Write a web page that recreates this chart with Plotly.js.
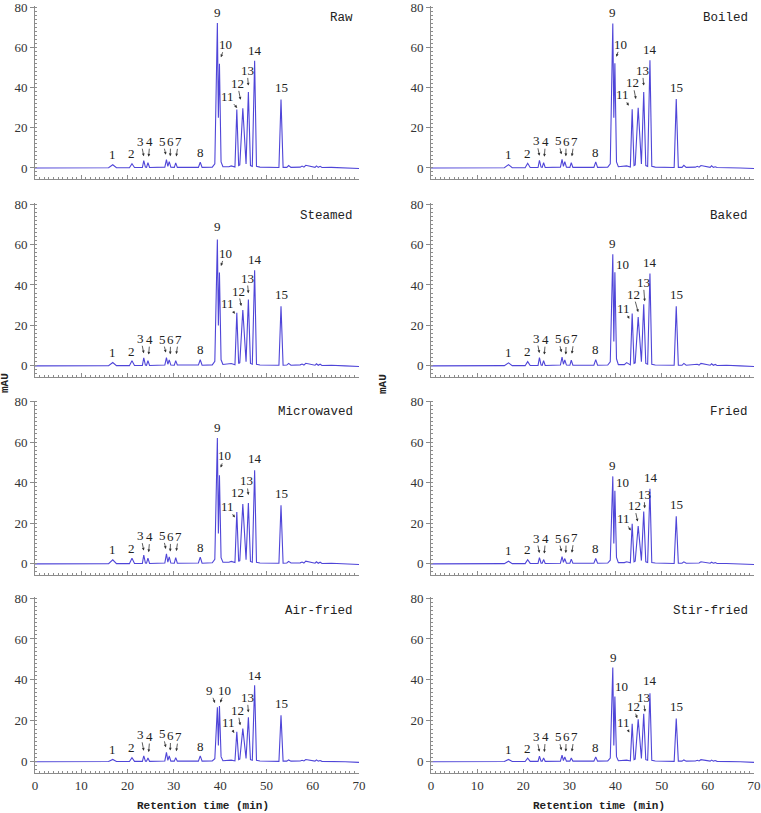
<!DOCTYPE html>
<html><head><meta charset="utf-8">
<script src="https://cdn.plot.ly/plotly-3.0.1.min.js"></script>
<style>html,body{margin:0;padding:0;background:#fff}#chart{width:761px;height:813px}</style>
</head><body><div id="chart"></div>
<script>
// Retention time points (min) shared by all chromatograms
const time = [0, 8, 15.9, 16.8, 17.6, 20.4, 20.95, 21.5, 23.2, 23.5,
  23.85, 24.1, 24.4, 24.75, 27.5, 28.05, 28.4, 28.7, 29.0, 29.35,
  30.1, 30.4, 30.75, 32.6, 33.6, 35.3, 35.7, 36.1, 38.3, 38.85,
  39.4, 39.62, 39.85, 40.2, 40.6, 41.9, 42.4, 43.2, 43.6, 44.0,
  44.25, 44.9, 45.6, 46.1, 46.55, 46.95, 47.45, 47.85, 48.6, 52.7,
  53.15, 53.6, 54.4, 54.8, 55.3, 57.3, 57.7, 58.1, 58.5, 60.5,
  60.8, 61.2, 61.6, 62.0, 64, 67, 70];

// Signal (mAU) per treatment
const raw = [0, 0, 0.1, 1.6, 0.1, 0.1, 2.1, 0.2, 0.2, 3.6,
  0.4, 0.3, 2.6, 0.2, 0.3, 0.4, 4.1, 0.8, 3.1, 0.4,
  0.3, 2.5, 0.3, 0.3, 0.5, 0.3, 2.8, 0.3, 0.4, 2.0,
  72.0, 25, 51.8, 3.0, 0.6, 0.6, 1.0, 0.5, 29.0, 1.2,
  1.5, 29.6, 2.0, 37.8, 1.2, 0.8, 53.3, 0.8, 0.4, 0.2,
  34.0, 0.3, 0.3, 1.2, 0.3, 0.4, 0.9, 0.4, 1.3, 0.3,
  1.0, 0.3, 0.8, 0.2, 0.3, 0.0, -0.3];
const boiled = [0, 0, 0.1, 1.65, 0.1, 0.1, 2.3, 0.2, 0.2, 3.8,
  0.4, 0.3, 2.6, 0.2, 0.3, 0.4, 4.3, 0.8, 3.1, 0.4,
  0.3, 2.6, 0.3, 0.3, 0.4, 0.3, 3.0, 0.3, 0.4, 2.0,
  71.8, 25, 52.0, 3.0, 0.6, 0.7, 1.0, 0.5, 29.2, 1.2,
  1.5, 29.9, 2.0, 37.8, 1.2, 0.8, 53.5, 0.8, 0.4, 0.2,
  34.2, 0.3, 0.3, 1.3, 0.3, 0.4, 0.8, 0.4, 1.2, 0.3,
  1.1, 0.3, 0.6, 0.2, 0.2, 0.0, -0.3];
const steamed = [0, 0, 0.1, 1.65, 0.1, 0.1, 2.5, 0.2, 0.2, 4.0,
  0.4, 0.3, 2.6, 0.2, 0.3, 0.4, 4.1, 0.8, 3.0, 0.4,
  0.3, 2.6, 0.4, 0.5, 0.6, 0.4, 3.0, 0.3, 0.5, 2.2,
  62.5, 20, 46.2, 3.0, 0.7, 0.9, 1.2, 0.6, 26.2, 1.2,
  1.6, 27.6, 2.0, 32.8, 1.2, 0.8, 47.2, 0.8, 0.4, 0.3,
  29.4, 0.3, 0.4, 1.2, 0.3, 0.5, 0.9, 0.4, 1.3, 0.3,
  1.0, 0.3, 0.8, 0.2, 0.3, 0.0, -0.3];
const baked = [0, 0, 0.1, 1.5, 0.1, 0.1, 2.1, 0.2, 0.2, 4.1,
  0.4, 0.3, 2.6, 0.2, 0.3, 0.4, 4.3, 0.8, 2.9, 0.4,
  0.3, 2.8, 0.3, 0.3, 0.5, 0.3, 3.1, 0.3, 0.4, 2.0,
  55.2, 12, 46.3, 3.5, 0.6, 0.6, 1.6, 0.5, 25.9, 1.2,
  1.5, 24.1, 2.0, 30.4, 1.2, 0.8, 45.7, 0.8, 0.4, 0.3,
  29.5, 0.3, 0.3, 1.2, 0.3, 0.5, 0.8, 0.4, 1.2, 0.3,
  1.0, 0.3, 0.7, 0.2, 0.3, 0.0, -0.3];
const microwaved = [0, 0, 0.1, 2.0, 0.1, 0.1, 2.8, 0.2, 0.2, 4.3,
  0.4, 0.3, 2.8, 0.2, 0.3, 0.4, 4.9, 0.8, 3.4, 0.4,
  0.3, 3.1, 0.3, 0.4, 0.6, 0.4, 3.3, 0.3, 0.5, 2.2,
  62.0, 15, 43.6, 3.0, 0.8, 0.8, 1.2, 0.6, 25.6, 1.2,
  1.6, 29.5, 2.0, 30.0, 1.2, 0.8, 46.1, 0.8, 0.4, 0.3,
  28.9, 0.3, 0.4, 1.2, 0.4, 0.5, 0.9, 0.4, 1.3, 0.3,
  1.0, 0.3, 0.8, 0.2, 0.3, 0.0, -0.3];
const fried = [0, 0, 0.1, 1.3, 0.1, 0.1, 2.0, 0.2, 0.2, 3.1,
  0.3, 0.3, 2.1, 0.2, 0.3, 0.3, 3.6, 0.7, 2.6, 0.3,
  0.3, 2.3, 0.3, 0.3, 0.4, 0.3, 2.6, 0.3, 0.4, 1.8,
  43.1, 10, 36.0, 3.2, 0.6, 0.6, 1.0, 0.5, 19.8, 1.0,
  1.3, 18.6, 1.6, 25.8, 1.0, 0.7, 37.0, 0.7, 0.4, 0.2,
  23.5, 0.3, 0.3, 1.0, 0.3, 0.4, 0.7, 0.4, 1.0, 0.3,
  0.8, 0.3, 0.6, 0.2, 0.2, 0.0, -0.3];
const airFried = [0, 0, 0.1, 1.1, 0.1, 0.1, 2.0, 0.2, 0.2, 2.9,
  0.3, 0.3, 1.8, 0.2, 0.3, 0.4, 4.6, 0.7, 2.8, 0.3,
  0.3, 2.0, 0.3, 0.3, 0.4, 0.3, 2.9, 0.3, 0.4, 1.5,
  26.6, 8, 27.2, 2.5, 0.5, 0.5, 0.8, 0.4, 14.6, 1.0,
  1.3, 16.2, 1.6, 21.7, 1.0, 0.7, 37.4, 0.7, 0.4, 0.2,
  22.7, 0.3, 0.3, 0.9, 0.3, 0.4, 0.7, 0.4, 1.1, 0.3,
  0.9, 0.3, 0.6, 0.2, 0.2, 0.0, -0.3];
const stirFried = [0, 0, 0.1, 1.1, 0.1, 0.1, 1.8, 0.2, 0.2, 2.7,
  0.3, 0.3, 1.8, 0.2, 0.3, 0.3, 3.2, 0.6, 2.3, 0.3,
  0.3, 1.8, 0.3, 0.3, 0.4, 0.3, 2.3, 0.3, 0.4, 1.8,
  46.0, 8, 31.9, 2.5, 0.5, 0.5, 0.8, 0.4, 18.5, 1.0,
  1.3, 20.8, 1.6, 23.4, 1.0, 0.7, 33.4, 0.7, 0.4, 0.2,
  21.1, 0.3, 0.3, 0.9, 0.3, 0.4, 0.7, 0.4, 1.0, 0.3,
  0.8, 0.3, 0.6, 0.2, 0.2, 0.0, -0.3];

const panelNames = ['Raw', 'Boiled', 'Steamed', 'Baked', 'Microwaved', 'Fried', 'Air-fried', 'Stir-fried'];
const panelData = [raw, boiled, steamed, baked, microwaved, fried, airFried, stirFried];
const peakLabels = ['1','2','3','4','5','6','7','8','9','10','11','12','13','14','15'];
const peakPoint = [3, 6, 9, 12, 16, 18, 21, 26, 30, 32, 38, 41, 43, 46, 50]; // index of apex in time[]
const yTicks = [0, 20, 40, 60, 80];

// ---------- layout constants ----------
const W = 761, H = 813;
const colPx = [[35, 359], [431, 754]];
const rowPx = [[6, 179], [203, 377], [400.5, 575], [597, 773]];
const nameRight = [355, 749.5];
const nameY = [17.5, 215.5, 412.3, 611];
const lineColor = '#4f45d8';
const axisColor = '#8c8c8c';
const tickFont = {family: 'Liberation Serif, serif', size: 13, color: '#333'};
const labelFont = {family: 'Liberation Serif, serif', size: 13, color: '#222'};

// Label placement (screen px relative to the peak apex; y down).
// tip = arrow head position, txt = text centre. No tip -> plain text.
const labelDefault = {
  1: {txt: [0, -10.3]}, 2: {txt: [0, -9.8]},
  3: {tip: [0, -4.5], txt: [-3, -19.5]}, 4: {tip: [0.7, -6], txt: [2, -21.5]},
  5: {tip: [-0.6, -5], txt: [-3.8, -18.5]}, 6: {tip: [1, -5.5], txt: [1.4, -20.5]},
  7: {tip: [0.6, -6.5], txt: [2.8, -21.5]}, 8: {txt: [0, -9.8]},
  9: {txt: [0, -11]}, 10: {tip: [1.5, -6.5], txt: [5.7, -19]},
  11: {tip: [0.3, -1.7], txt: [-9.5, -13]}, 12: {tip: [-2.3, -8.7], txt: [-5.5, -25]},
  13: {tip: [0, -6.3], txt: [-1.3, -21.5]}, 14: {txt: [0, -10.5]}, 15: {txt: [0, -11.7]}
};
const labelOverride = {
  1: {11: {tip: [-3.5, -3.5], txt: [-9.5, -14.5]}},
  2: {9: {txt: [0, -13]}, 11: {tip: [-1.9, 1], txt: [-9, -9]}, 12: {tip: [-1.6, -4], txt: [-4.6, -19]}},
  3: {10: {txt: [7.4, -7.5]}, 11: {tip: [-2.9, 5.4], txt: [-8.2, -5.3]},
      12: {tip: [0, -5], txt: [-4.9, -23]}, 13: {tip: [1, -3], txt: [-0.4, -22]}},
  4: {10: {tip: [1.2, -7.8], txt: [5.5, -19.5]}, 11: {tip: [-1.9, 5.7], txt: [-9.2, -5.3]},
      12: {txt: [-5.2, -11]}, 13: {tip: [0, -8], txt: [-1.7, -22]}, 14: {txt: [0.3, -12]}},
  5: {10: {txt: [7.4, -8]}, 11: {tip: [-1.5, 6.9], txt: [-8.2, -4.8]},
      12: {tip: [-0.5, -4.5], txt: [-3.9, -20.5]}, 13: {tip: [1, -3.3], txt: [0.3, -16.8]}, 14: {txt: [0.8, -11]}},
  6: {3: {tip: [0, -5], txt: [-3, -21]}, 4: {tip: [0.7, -6], txt: [2, -22]},
      9: {tip: [-2.4, -4.4], txt: [-7.4, -17]}, 10: {tip: [0.8, -3.4], txt: [5.5, -16]},
      11: {tip: [-2.6, 1.1], txt: [-8.6, -9]}, 12: {tip: [-2.6, -3.3], txt: [-5.2, -18.3]},
      13: {tip: [0, -5], txt: [-1.1, -20]}, 14: {txt: [0.3, -10]}},
  7: {9: {txt: [0.5, -10]}, 10: {txt: [6.7, -10]}, 11: {tip: [-2.9, 8.6], txt: [-8.2, -1.4]},
      12: {tip: [-1, -1], txt: [-5, -13]}, 13: {tip: [1.3, -2], txt: [-0.4, -16]},
      14: {txt: [0.5, -13]}, 15: {txt: [0, -12.3]}}
};

const px2x = p => p / W;
const px2y = p => 1 - p / H;

const traces = [];
const layout = {
  width: W, height: H, autosize: false,
  margin: {l: 0, r: 0, t: 0, b: 0},
  paper_bgcolor: '#fff', plot_bgcolor: '#fff',
  showlegend: false,
  annotations: []
};

panelNames.forEach((name, i) => {
  const n = i + 1;
  const row = Math.floor(i / 2), col = i % 2;
  const xa = n === 1 ? 'x' : 'x' + n;
  const ya = n === 1 ? 'y' : 'y' + n;
  traces.push({
    x: time, y: panelData[i], xaxis: xa, yaxis: ya,
    type: 'scatter', mode: 'lines',
    line: {color: lineColor, width: 1.1},
    hoverinfo: 'skip'
  });
  layout[n === 1 ? 'xaxis' : 'xaxis' + n] = {
    domain: [px2x(colPx[col][0]), px2x(colPx[col][1])],
    anchor: ya, range: [0, 70], tick0: 0, dtick: 10,
    showline: true, linecolor: axisColor, linewidth: 1,
    ticks: 'inside', ticklen: 4, tickcolor: axisColor, tickwidth: 1,
    minor: {dtick: 1, tick0: 0, ticks: 'inside', ticklen: 2, tickcolor: axisColor, showgrid: false},
    showticklabels: row === 3, tickfont: tickFont, ticklabeloverflow: 'allow',
    showgrid: false, zeroline: false, fixedrange: true
  };
  layout[n === 1 ? 'yaxis' : 'yaxis' + n] = {
    domain: [px2y(rowPx[row][1]), px2y(rowPx[row][0])],
    anchor: xa, range: [-5.5, 80.5],
    tickmode: 'array', tickvals: yTicks, ticktext: yTicks.map(String),
    showline: true, linecolor: axisColor, linewidth: 1,
    ticks: 'outside', ticklen: 4, tickcolor: axisColor, tickwidth: 1,
    minor: {dtick: 2, tick0: 0, ticks: 'inside', ticklen: 2, tickcolor: axisColor, showgrid: false},
    tickfont: tickFont, ticklabeloverflow: 'allow',
    showgrid: false, zeroline: false, fixedrange: true
  };
  // panel name
  layout.annotations.push({
    xref: 'paper', yref: 'paper', x: px2x(nameRight[col]), y: px2y(nameY[row]),
    xanchor: 'right', yanchor: 'middle', showarrow: false, text: name,
    font: {family: 'Liberation Mono, monospace', size: 12.5, color: '#222'}
  });
  // peak labels
  peakLabels.forEach((lab, k) => {
    const idx = peakPoint[k];
    const num = k + 1;
    const spec = (labelOverride[i] && labelOverride[i][num]) || labelDefault[num];
    const base = {xref: xa, yref: ya, x: time[idx], y: panelData[i][idx], text: lab, font: labelFont,
                  xanchor: 'center', yanchor: 'middle', borderpad: 0, borderwidth: 0};
    if (spec.tip) {
      layout.annotations.push(Object.assign(base, {
        showarrow: true,
        xshift: spec.tip[0], yshift: -spec.tip[1],
        ax: spec.txt[0] - spec.tip[0], ay: spec.txt[1] - spec.tip[1], standoff: 0,
        arrowhead: 2, arrowsize: 0.7, arrowwidth: 0.8, arrowcolor: '#333'
      }));
    } else {
      layout.annotations.push(Object.assign(base, {
        showarrow: false, xshift: spec.txt[0], yshift: -spec.txt[1]
      }));
    }
  });
});

// axis titles
const axTitleFont = {family: 'Liberation Mono, monospace', size: 11, color: '#222'};
[[202.5, 805.5], [598.8, 805.5]].forEach(p => layout.annotations.push({
  xref: 'paper', yref: 'paper', x: px2x(p[0]), y: px2y(p[1]), xanchor: 'center', yanchor: 'middle',
  showarrow: false, text: '<b>Retention time (min)</b>', font: axTitleFont
}));
[[5, 383], [383, 384]].forEach(p => layout.annotations.push({
  xref: 'paper', yref: 'paper', x: px2x(p[0]), y: px2y(p[1]), xanchor: 'center', yanchor: 'middle',
  showarrow: false, textangle: -90, text: '<b>mAU</b>', font: axTitleFont
}));

Plotly.newPlot('chart', traces, layout, {staticPlot: true, displayModeBar: false});
</script>
</body></html>
